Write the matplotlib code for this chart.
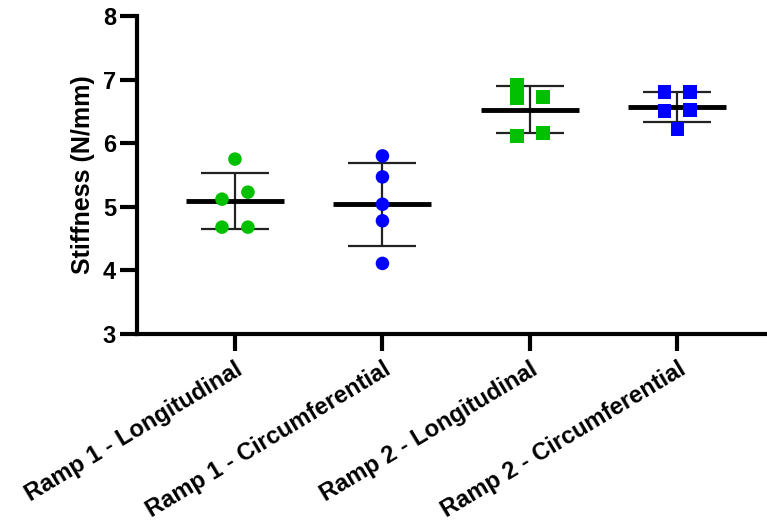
import numpy as np
import matplotlib
matplotlib.use("Agg")
import matplotlib.pyplot as plt

categories = ["Ramp 1 - Longitudinal", "Ramp 1 - Circumferential",
              "Ramp 2 - Longitudinal", "Ramp 2 - Circumferential"]
r1_long = [5.75, 5.23, 5.12, 4.68, 4.68]
r1_circ = [5.80, 5.47, 5.04, 4.78, 4.11]
r2_long = [6.92, 6.71, 6.73, 6.12, 6.16]
r2_circ = [6.80, 6.80, 6.51, 6.52, 6.22]
series = [r1_long, r1_circ, r2_long, r2_circ]

# layout: horizontal jitter side per point (-1 left, 0 centre, 1 right)
jitter = [[0, 1, -1, -1, 1],
          [0, 0, 0, 0, 0],
          [-1, -1, 1, -1, 1],
          [-1, 1, -1, 1, 0]]
colors = ["#00C000", "#0000FF", "#00C000", "#0000FF"]
markers = ["o", "o", "s", "s"]
yticks = [3, 4, 5, 6, 7, 8]

plt.rcParams['font.family'] = ['Liberation Sans', 'DejaVu Sans']
plt.rcParams['font.weight'] = 'bold'

fig = plt.figure(figsize=(7.67, 5.27), dpi=100)
ax = fig.add_axes([137/767, 1 - 334/527, 1 - 137/767, (334 - 16)/527])

for i, vals in enumerate(series):
    v = np.array(vals)
    m = v.mean()
    sd = v.std(ddof=1)
    ax.errorbar(i, m, yerr=sd, fmt='none', ecolor='#222222', elinewidth=1.6,
                capsize=24.5, capthick=1.6, zorder=2)
    ax.plot([i - 0.332, i + 0.332], [m, m], color='black', lw=3.5,
            solid_capstyle='butt', zorder=3)
    xs = i + 0.088 * np.array(jitter[i])
    ax.scatter(xs, v, s=95 if markers[i] == 'o' else 100, marker=markers[i],
               color=colors[i], edgecolors='none', zorder=4)

ax.set_xlim(-0.664, 3.607)
ax.set_ylim(3, 8)
ax.set_yticks(yticks)
ax.set_yticklabels([str(t) for t in yticks], fontsize=17, fontweight='bold')
ax.set_xticks(range(len(categories)))
ax.set_xticklabels(categories, rotation=31, ha='right', rotation_mode='anchor',
                   fontsize=17.1, fontweight='bold')
ax.set_ylabel("Stiffness (N/mm)", fontsize=18, fontweight='bold', labelpad=6)

for s in ['top', 'right']:
    ax.spines[s].set_visible(False)
for s in ['left', 'bottom']:
    ax.spines[s].set_linewidth(3)
ax.tick_params(axis='both', width=3, length=12, color='black')
ax.tick_params(axis='y', pad=3)
ax.tick_params(axis='x', pad=5)

fig.savefig("out.png", dpi=100)
